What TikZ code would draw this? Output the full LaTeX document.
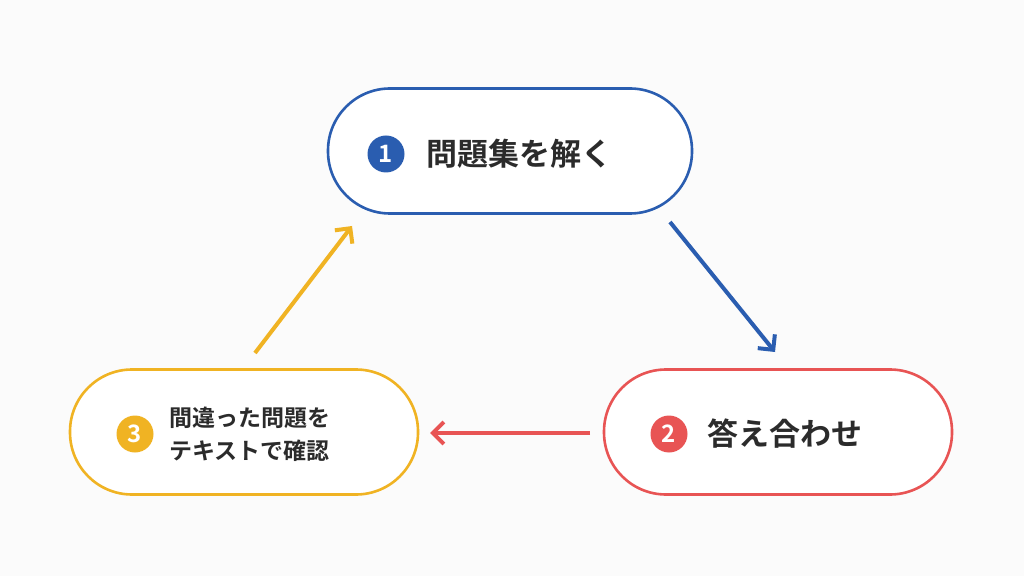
\documentclass[tikz,border=0pt]{standalone}
\usepackage{fontspec}
\setmainfont{Noto Sans CJK JP}[BoldFont={Noto Sans CJK JP Bold}]
\usetikzlibrary{positioning,arrows.meta}
\definecolor{stepblue}{HTML}{2A5DB0}
\definecolor{stepred}{HTML}{E85454}
\definecolor{stepyellow}{HTML}{F0B323}
\definecolor{textdark}{HTML}{2B2B2B}
\tikzset{
  step/.style={draw=#1, line width=2.6pt, rounded corners=62pt, fill=white,
    minimum height=125pt},
  num/.style={circle, fill=#1, text=white, minimum size=37pt, inner sep=0pt,
    font=\bfseries\fontsize{24}{24}\selectfont},
  label/.style={text=textdark, font=\bfseries\fontsize{31}{31}\selectfont, anchor=west},
  flow/.style={draw=#1, line width=4pt, -{Straight Barb[length=11pt,width=22pt]}}
}
\begin{document}
\begin{tikzpicture}[x=1pt,y=1pt]
  \fill[white!97!gray] (0,0) rectangle (1024,576);
  \useasboundingbox (0,0) rectangle (1024,576);
  % boxes
  \node[step=stepblue, minimum width=364pt] (solve) at (510,425) {};
  \node[step=stepred, minimum width=348pt] (check) at (778,144) {};
  \node[step=stepyellow, minimum width=348pt] (review) at (244,144) {};
  % numbers and texts
  \node[num=stepblue] (n1) at (386,422) {1};
  \node[label, right=18pt of n1] {問題集を解く};
  \node[num=stepred] (n2) at (669,142) {2};
  \node[label, right=16pt of n2] {答え合わせ};
  \node[num=stepyellow] (n3) at (135,142) {3};
  \node[label, right=12pt of n3, align=left,
    font=\bfseries\fontsize{23}{33}\selectfont] {間違った問題を\\テキストで確認};
  % cycle
  \coordinate (a1) at (670,354); \coordinate (b1) at (775,224);
  \coordinate (a2) at (590,143); \coordinate (b2) at (430,143);
  \coordinate (a3) at (255,223); \coordinate (b3) at (352,350);
  \draw[flow=stepblue] (a1) -- (b1);
  \draw[flow=stepred] (a2) -- (b2);
  \draw[flow=stepyellow] (a3) -- (b3);
\end{tikzpicture}
\end{document}
